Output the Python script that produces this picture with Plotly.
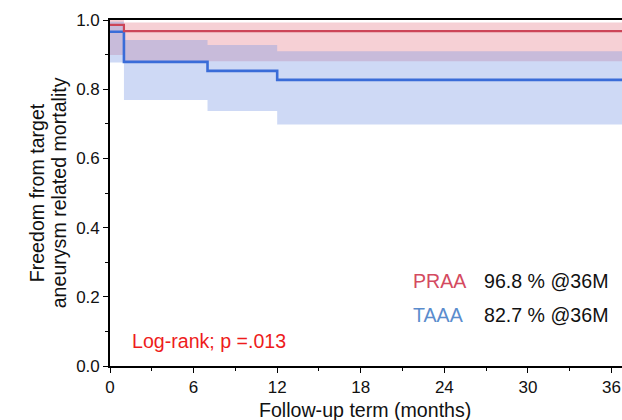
import plotly.graph_objects as go

# Kaplan-Meier data
praa_time = [0, 1, 40]
praa_surv = [0.986, 0.968, 0.968]
praa_upper = [1.000, 0.993, 0.993]
praa_lower = [0.899, 0.881, 0.881]

taaa_time = [0, 1, 7, 12, 40]
taaa_surv = [0.966, 0.879, 0.853, 0.827, 0.827]
taaa_upper = [0.995, 0.942, 0.928, 0.910, 0.910]
taaa_lower = [0.877, 0.769, 0.737, 0.698, 0.698]

x_ticks = [0, 6, 12, 18, 24, 30, 36]
y_ticks = [0.0, 0.2, 0.4, 0.6, 0.8, 1.0]
y_ticklabels = ["0.0", "0.2", "0.4", "0.6", "0.8", "1.0"]

RED_LINE = "#cc4558"
BLUE_LINE = "#3a6cd8"
FONT = "Liberation Sans, Arial, sans-serif"

fig = go.Figure()

# PRAA confidence band
fig.add_trace(go.Scatter(x=praa_time, y=praa_lower, mode="lines", line=dict(width=0, shape="hv"),
                         showlegend=False, hoverinfo="skip"))
fig.add_trace(go.Scatter(x=praa_time, y=praa_upper, mode="lines", line=dict(width=0, shape="hv"),
                         fill="tonexty", fillcolor="rgba(228,112,128,0.33)", showlegend=False, hoverinfo="skip"))
# TAAA confidence band
fig.add_trace(go.Scatter(x=taaa_time, y=taaa_lower, mode="lines", line=dict(width=0, shape="hv"),
                         showlegend=False, hoverinfo="skip"))
fig.add_trace(go.Scatter(x=taaa_time, y=taaa_upper, mode="lines", line=dict(width=0, shape="hv"),
                         fill="tonexty", fillcolor="rgba(118,150,226,0.36)", showlegend=False, hoverinfo="skip"))
# Survival curves
fig.add_trace(go.Scatter(x=taaa_time, y=taaa_surv, mode="lines", line=dict(color=BLUE_LINE, width=2.6, shape="hv"),
                         name="TAAA", showlegend=False))
fig.add_trace(go.Scatter(x=praa_time, y=praa_surv, mode="lines", line=dict(color=RED_LINE, width=2.2, shape="hv"),
                         name="PRAA", showlegend=False))

FS = 19.6
annotations = [
    dict(text="PRAA", x=21.6, y=0.247, xanchor="left", yanchor="middle", font=dict(size=FS, color="#d44a60")),
    dict(text="96.8 % @36M", x=26.7, y=0.247, xanchor="left", yanchor="middle", font=dict(size=FS, color="#111111")),
    dict(text="TAAA", x=21.6, y=0.146, xanchor="left", yanchor="middle", font=dict(size=FS, color="#5a8ccd")),
    dict(text="82.7 % @36M", x=26.7, y=0.146, xanchor="left", yanchor="middle", font=dict(size=FS, color="#111111")),
    dict(text="Log-rank; p =.013", x=1.45, y=0.072, xanchor="left", yanchor="middle", font=dict(size=FS, color="#ee1c1c")),
    dict(text="Follow-up term (months)", xref="paper", yref="paper", x=0.498, y=-0.128,
         xanchor="center", yanchor="middle", font=dict(size=FS, color="#111111")),
    dict(text="Freedom from target", xref="paper", yref="paper", x=-0.142, y=0.5,
         textangle=-90, xanchor="center", yanchor="middle", font=dict(size=FS, color="#111111")),
    dict(text="aneurysm related mortality", xref="paper", yref="paper", x=-0.099, y=0.5,
         textangle=-90, xanchor="center", yanchor="middle", font=dict(size=FS, color="#111111")),
]
for a in annotations:
    a.setdefault("xref", "x")
    a.setdefault("yref", "y")
    a["showarrow"] = False

fig.update_layout(
    width=622, height=420,
    margin=dict(l=110, r=0, t=20, b=54),
    plot_bgcolor="white", paper_bgcolor="white",
    font=dict(family=FONT, size=17, color="#111111"),
    annotations=annotations,
    showlegend=False,
)
fig.update_xaxes(
    range=[0, 36.75], tickvals=x_ticks, ticktext=[str(v) for v in x_ticks],
    ticks="outside", ticklen=5, tickwidth=1.2, tickcolor="black",
    minor=dict(tickvals=[3, 9, 15, 21, 27, 33], ticks="outside", ticklen=3, tickwidth=1.2, tickcolor="black"),
    showline=True, linecolor="black", linewidth=1.6, mirror=True,
    showgrid=False, zeroline=False, tickfont=dict(size=17),
)
fig.update_yaxes(
    range=[0, 1.0], tickvals=y_ticks, ticktext=y_ticklabels,
    ticks="outside", ticklen=5, tickwidth=1.2, tickcolor="black",
    minor=dict(tickvals=[0.1, 0.3, 0.5, 0.7, 0.9], ticks="outside", ticklen=3, tickwidth=1.2, tickcolor="black"),
    showline=True, linecolor="black", linewidth=1.6,
    showgrid=False, zeroline=False, tickfont=dict(size=17),
)

fig.write_html("out.html", config={"displayModeBar": False},
               post_script="document.body.style.margin='0';document.body.style.overflow='hidden';")
